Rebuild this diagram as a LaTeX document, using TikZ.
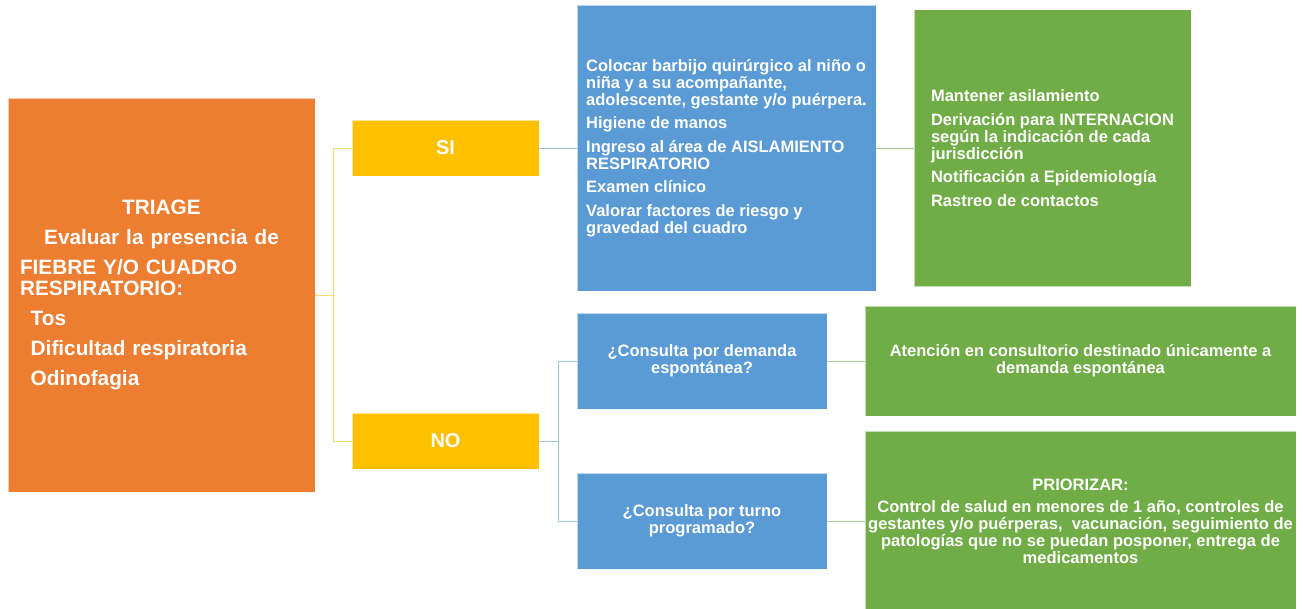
\documentclass[tikz,border=0pt]{standalone}
\usepackage{fontspec}
\setmainfont{Liberation Sans}
\definecolor{naranja}{HTML}{ED7D31}
\definecolor{amarillo}{HTML}{FFC000}
\definecolor{azul}{HTML}{5B9BD5}
\definecolor{verde}{HTML}{70AD47}
\definecolor{lineaamarilla}{HTML}{FFD966}
\definecolor{lineaazul}{HTML}{9DC3E6}
\definecolor{lineaverde}{HTML}{A9D18E}
\newcommand{\leftrow}[1]{\makebox[283pt][l]{#1}}

\begin{document}
\begin{tikzpicture}[x=1pt,y=-1pt,
		caja/.style={draw=white,draw opacity=0.6,line width=0.8pt,text=white,inner sep=0pt,outer sep=0pt,font=\bfseries\fontsize{16.5}{17}\selectfont},
		respuesta/.style={caja,fill=amarillo,minimum width=187pt,minimum height=56pt,font=\bfseries\fontsize{20}{22}\selectfont},
		pregunta/.style={caja,fill=azul,minimum width=250pt,minimum height=96pt,align=center},
		conector/.style={line width=1pt}]
	\fill[white] (0,0) rectangle (1306,608);
	\useasboundingbox (0,0) rectangle (1306,608);
	\clip (0,0) rectangle (1306,608);

	\node[caja,fill=naranja,minimum width=307pt,minimum height=394pt,text width=283pt,align=center,font=\bfseries\fontsize{20.8}{21.7}\selectfont] (triage) at (161.5,295)
		{TRIAGE\\[8.3pt]
		Evaluar la presencia de\\[8.3pt]
		\leftrow{FIEBRE Y/O CUADRO}\\
		\leftrow{RESPIRATORIO:}\\[8.3pt]
		\leftrow{\hspace{10.7pt}Tos}\\[8.3pt]
		\leftrow{\hspace{10.7pt}Dificultad respiratoria}\\[8.3pt]
		\leftrow{\hspace{10.7pt}Odinofagia}};

	\node[respuesta] (si) at (445.5,148) {SI};
	\node[respuesta] (no) at (445.5,441) {NO};

	\node[caja,fill=azul,minimum width=299pt,minimum height=286pt,align=left] (medidas) at (726.5,148)
		{Colocar barbijo quirúrgico al niño o\\
		niña y a su acompañante,\\
		adolescente, gestante y/o puérpera.\\[6.5pt]
		Higiene de manos\\[6.5pt]
		Ingreso al área de AISLAMIENTO\\
		RESPIRATORIO\\[6.5pt]
		Examen clínico\\[6.5pt]
		Valorar factores de riesgo y\\
		gravedad del cuadro};

	\node[caja,fill=verde,minimum width=277pt,minimum height=277pt,align=left] (internacion) at (1052.5,148)
		{Mantener asilamiento\\[6.5pt]
		Derivación para INTERNACION\\
		según la indicación de cada\\
		jurisdicción\\[6.5pt]
		Notificación a Epidemiología\\[6.5pt]
		Rastreo de contactos};

	\node[pregunta] (demanda) at (702,361) {¿Consulta por demanda\\espontánea?};
	\node[pregunta] (turno) at (702,521) {¿Consulta por turno\\programado?};

	\node[caja,fill=verde,minimum width=431pt,minimum height=110pt,align=center] (atencion) at (1080.5,361)
		{Atención en consultorio destinado únicamente a\\demanda espontánea};
	\node[caja,fill=verde,minimum width=431pt,minimum height=180pt,align=center] (priorizar) at (1080.5,521)
		{PRIORIZAR:\\[5pt]
		Control de salud en menores de 1 año, controles de\\
		gestantes y/o puérperas,~ vacunación, seguimiento de\\
		patologías que no se puedan posponer, entrega de\\
		medicamentos};

	\draw[conector,lineaamarilla] (triage.east) -- ++(18,0) |- (si.west);
	\draw[conector,lineaamarilla] (triage.east) -- ++(18,0) |- (no.west);
	\draw[conector,lineaazul] (si.east) -- (medidas.west);
	\draw[conector,lineaazul] (no.east) -- ++(19,0) |- (demanda.west);
	\draw[conector,lineaazul] (no.east) -- ++(19,0) |- (turno.west);
	\draw[conector,lineaverde] (medidas.east) -- (internacion.west);
	\draw[conector,lineaverde] (demanda.east) -- (atencion.west);
	\draw[conector,lineaverde] (turno.east) -- (priorizar.west);
\end{tikzpicture}
\end{document}
